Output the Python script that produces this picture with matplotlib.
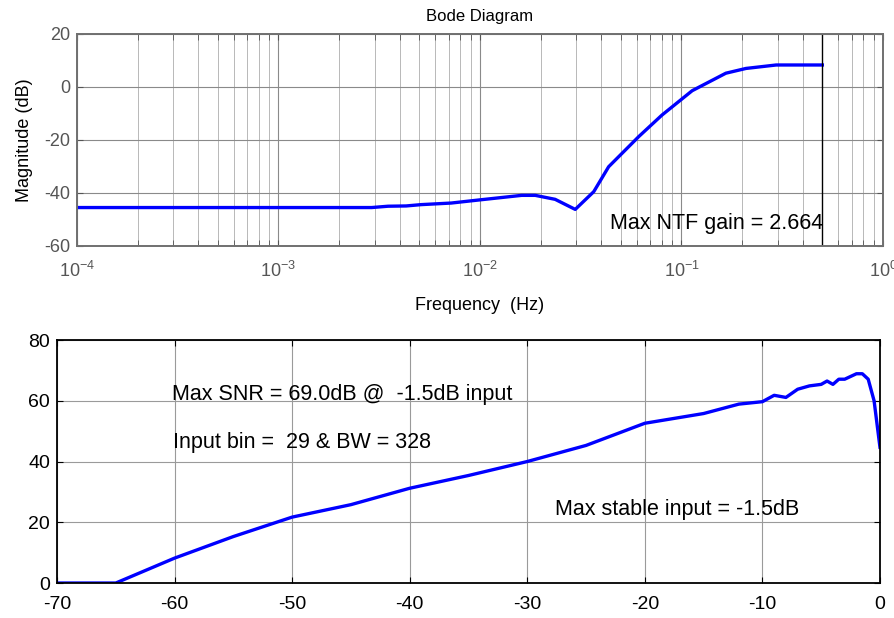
#!/usr/bin/env python3
"""Bode magnitude of the NTF plus SNR-vs-input curve, MATLAB-toolbox look."""

import matplotlib

matplotlib.use("Agg")
import matplotlib.pyplot as plt
from matplotlib.ticker import LogLocator, NullFormatter

plt.rcParams["font.family"] = ["Liberation Sans", "DejaVu Sans"]
plt.rcParams["mathtext.fontset"] = "custom"
plt.rcParams["mathtext.rm"] = "Liberation Sans"
plt.rcParams["mathtext.default"] = "regular"
plt.rcParams["axes.unicode_minus"] = False

# NTF magnitude
freq_hz = [1e-4, 1e-3, 2.9e-3, 3.5e-3, 4.3e-3, 5.1e-3, 7.2e-3, 1e-2, 0.0161, 0.0188,
           0.0236, 0.0297, 0.0367, 0.0435, 0.0614, 0.080, 0.113, 0.166, 0.209, 0.295, 0.5]
mag_db = [-45.5, -45.5, -45.5, -45.0, -44.9, -44.4, -43.8, -42.6, -40.9, -40.9,
          -42.4, -46.2, -39.5, -30.1, -18.7, -10.6, -1.4, 5.2, 7.0, 8.3, 8.3]
nyquist_hz = 0.5

# SNR vs input level
input_db = [-70, -65, -60, -55, -50, -45, -40, -35, -30, -25, -20, -15, -12, -10,
            -9, -8, -7, -6, -5, -4.5, -4, -3.5, -3, -2, -1.5, -1, -0.5, 0]
snr_db = [0, 0, 8.2, 15.3, 21.7, 25.8, 31.2, 35.4, 40.0, 45.3, 52.6, 55.8, 58.9, 59.7,
          61.8, 61.1, 63.8, 64.9, 65.4, 66.5, 65.4, 67.1, 67.1, 68.9, 68.9, 67.1, 60.0, 44.7]

BLUE = "#0000ff"
TICK_GRAY = "#555555"

fig = plt.figure(figsize=(8.95, 6.18), dpi=100)

# --- top: Bode magnitude ---
ax1 = fig.add_axes([0.086, 0.602, 0.9006, 0.343])
ax1.semilogx(freq_hz, mag_db, color=BLUE, lw=2.4)
ax1.axvline(nyquist_hz, color="k", lw=1.0)
ax1.set_xlim(1e-4, 1)
ax1.set_ylim(-60, 20)
ax1.set_yticks([-60, -40, -20, 0, 20])
ax1.xaxis.set_major_locator(LogLocator(base=10, numticks=10))
ax1.xaxis.set_minor_locator(LogLocator(base=10, subs=range(2, 10), numticks=20))
ax1.xaxis.set_minor_formatter(NullFormatter())
ax1.grid(True, which="major", color="#8a8a8a", lw=0.8)
ax1.grid(True, which="minor", axis="x", color="#b8b8b8", lw=0.7)
ax1.tick_params(which="both", direction="in", top=True, right=True,
                colors=TICK_GRAY, labelsize=13, length=4)
ax1.tick_params(axis="x", which="major", pad=11)
ax1.tick_params(axis="y", pad=5)
for s in ax1.spines.values():
    s.set_color("#707070")
    s.set_linewidth(1.4)
ax1.set_title("Bode Diagram", fontsize=12, pad=9)
ax1.set_xlabel("Frequency  (Hz)", fontsize=13, labelpad=11)
ax1.set_ylabel("Magnitude (dB)", fontsize=13, labelpad=8)
ax1.text(0.0442, -53.7, "Max NTF gain = 2.664", fontsize=15.5, va="baseline")

# --- bottom: SNR curve ---
ax2 = fig.add_axes([0.0637, 0.0566, 0.9195, 0.3932])
ax2.plot(input_db, snr_db, color=BLUE, lw=2.4)
ax2.set_xlim(-70, 0)
ax2.set_ylim(0, 80)
ax2.set_xticks(range(-70, 1, 10))
ax2.set_yticks(range(0, 81, 20))
ax2.grid(True, color="#9a9a9a", lw=0.8)
ax2.tick_params(direction="in", top=True, right=True, labelsize=14, length=4)
ax2.tick_params(axis="x", pad=9)
ax2.tick_params(axis="y", pad=5)
for s in ax2.spines.values():
    s.set_color("k")
    s.set_linewidth(1.3)
ax2.text(-60.25, 60.2, "Max SNR = 69.0dB @  -1.5dB input", fontsize=15.5, va="baseline")
ax2.text(-60.1, 44.3, "Input bin =  29 & BW = 328", fontsize=15.5, va="baseline")
ax2.text(-27.65, 22.4, "Max stable input = -1.5dB", fontsize=15.5, va="baseline")

fig.savefig("out.png", dpi=100)
